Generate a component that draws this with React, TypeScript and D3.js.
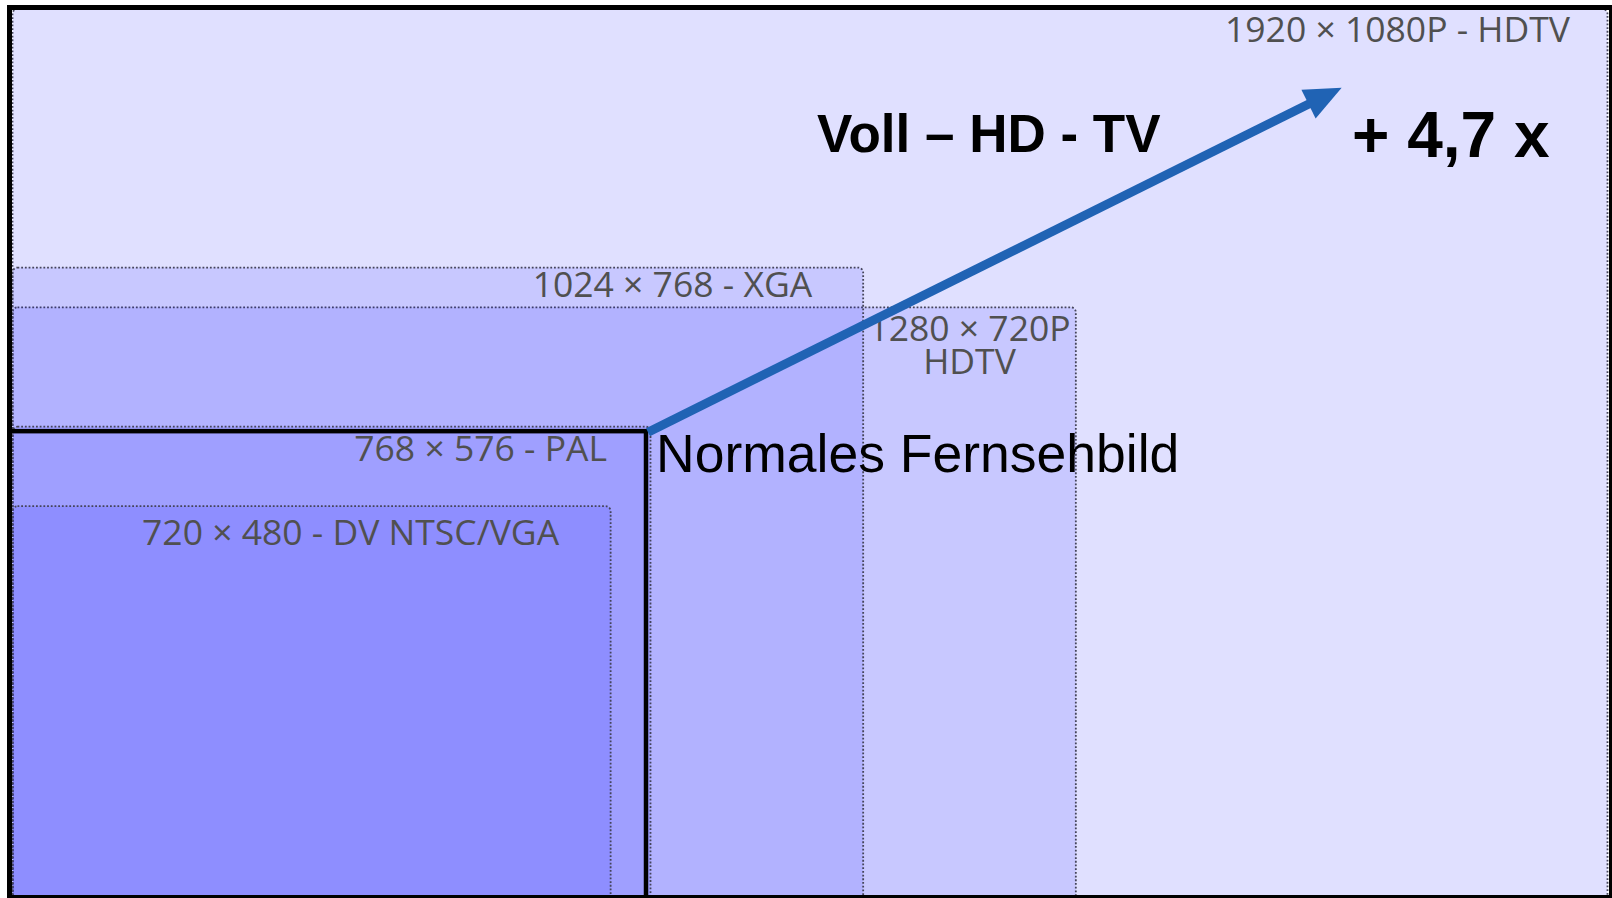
import { useEffect, useRef } from "react"
import * as d3 from "d3"

// Resolutions (px), largest first so the small ones are drawn on top
const formats = ["1920 × 1080P - HDTV", "1280 × 720P", "1024 × 768 - XGA", "768 × 576 - PAL", "720 × 480 - DV NTSC/VGA"]
const widths = [1920, 1280, 1024, 768, 720]
const heights = [1080, 720, 768, 576, 480]
const subLabels = ["", "HDTV", "", "", ""]

const arrowTitle = "Voll – HD - TV"
const factorLabel = "+ 4,7 x"
const palLabel = "Normales Fernsehbild"

export default function App() {
  const svgRef = useRef<SVGSVGElement>(null)

  useEffect(() => {
    if (!svgRef.current) return
    const svg = d3.select(svgRef.current)
    svg.selectAll("*").remove()

    const W = 1612
    const H = 898
    svg.attr("width", W).attr("height", H)

    const x = d3.scaleLinear().domain([0, 1920]).range([12.5, 1607.5])
    const y = d3.scaleLinear().domain([0, 1080]).range([904, 9])

    const data = formats.map((label, i) => ({ label, w: widths[i], h: heights[i], sub: subLabels[i] }))

    svg.append("rect").attr("width", W).attr("height", H).attr("fill", "#ffffff")

    // resolution boxes, translucent so overlaps get darker
    svg
      .selectAll(".res")
      .data(data)
      .enter()
      .append("rect")
      .attr("class", "res")
      .attr("x", x(0))
      .attr("y", (d) => y(d.h))
      .attr("width", (d) => x(d.w) - x(0))
      .attr("height", (d) => y(0) - y(d.h))
      .attr("rx", 5)
      .attr("fill", "#0000ff")
      .attr("fill-opacity", (d, i) => (i === 0 ? 0.12 : 0.105))
      .attr("stroke", "#45455a")
      .attr("stroke-width", 1.8)
      .attr("stroke-dasharray", "1.8 1.9")

    // label placement per box: [dx from right edge, dy from top, anchor]
    const labelPos: Record<number, [number, number, string]> = {
      1920: [-37.5, 33, "end"],
      1280: [-(x(1280) - x(1024)) / 2, 34, "middle"],
      1024: [-51, 29.5, "end"],
      768: [-43.5, 34.5, "end"],
      720: [-51.5, 39, "end"],
    }

    const labels = svg
      .selectAll(".res-label")
      .data(data)
      .enter()
      .append("text")
      .attr("class", "res-label")
      .attr("x", (d) => x(d.w) + labelPos[d.w][0])
      .attr("y", (d) => y(d.h) + labelPos[d.w][1])
      .attr("text-anchor", (d) => labelPos[d.w][2])
      .style("font-family", "'Open Sans', sans-serif")
      .style("font-size", "35.5px")
      .style("fill", "#505050")

    labels.append("tspan").text((d) => d.label)
    labels
      .filter((d) => d.sub !== "")
      .append("tspan")
      .attr("x", (d) => x(d.w) + labelPos[d.w][0])
      .attr("dy", 33)
      .text((d) => d.sub)

    // black frame around the PAL picture
    const palX = x(768) - 4.5
    const palY = y(576) + 4.5
    svg
      .append("rect")
      .attr("x", 9.5)
      .attr("y", palY)
      .attr("width", palX - 9.5)
      .attr("height", H + 20 - palY)
      .attr("fill", "none")
      .attr("stroke", "#000")
      .attr("stroke-width", 4.5)

    // outer frame
    svg
      .append("rect")
      .attr("x", 9.5)
      .attr("y", 7.5)
      .attr("width", 1602)
      .attr("height", 890)
      .attr("fill", "none")
      .attr("stroke", "#000")
      .attr("stroke-width", 5)

    // growth arrow from the PAL corner up to full HD
    const x0 = palX + 2
    const y0 = palY + 1
    const x1 = x(1600)
    const y1 = y(985)
    const ang = Math.atan2(y1 - y0, x1 - x0)
    const headLen = 37
    const headHalf = 16
    const bx = x1 - headLen * Math.cos(ang)
    const by = y1 - headLen * Math.sin(ang)
    const arrowColor = "#2063b4"

    svg
      .append("line")
      .attr("x1", x0)
      .attr("y1", y0)
      .attr("x2", bx + 2 * Math.cos(ang))
      .attr("y2", by + 2 * Math.sin(ang))
      .attr("stroke", arrowColor)
      .attr("stroke-width", 9)

    svg
      .append("path")
      .attr(
        "d",
        d3.line()([
          [x1, y1],
          [bx + headHalf * Math.sin(ang), by - headHalf * Math.cos(ang)],
          [bx - headHalf * Math.sin(ang), by + headHalf * Math.cos(ang)],
        ]) + "Z"
      )
      .attr("fill", arrowColor)

    // annotations
    svg
      .append("text")
      .attr("x", 817)
      .attr("y", 152)
      .style("font-family", "'Liberation Sans', Arial, sans-serif")
      .style("font-weight", "bold")
      .style("font-size", "53px")
      .style("fill", "#000")
      .text(arrowTitle)

    svg
      .append("text")
      .attr("x", 1352)
      .attr("y", 157)
      .style("font-family", "'Liberation Sans', Arial, sans-serif")
      .style("font-weight", "bold")
      .style("font-size", "64px")
      .style("fill", "#000")
      .text(factorLabel)

    svg
      .append("text")
      .attr("x", 656)
      .attr("y", 472)
      .style("font-family", "'Liberation Sans', Arial, sans-serif")
      .style("font-size", "53.5px")
      .style("fill", "#000")
      .text(palLabel)
  }, [])

  return (
    <div style={{ position: "absolute", left: 0, top: 0 }}>
      <svg ref={svgRef} style={{ display: "block" }}></svg>
    </div>
  )
}
